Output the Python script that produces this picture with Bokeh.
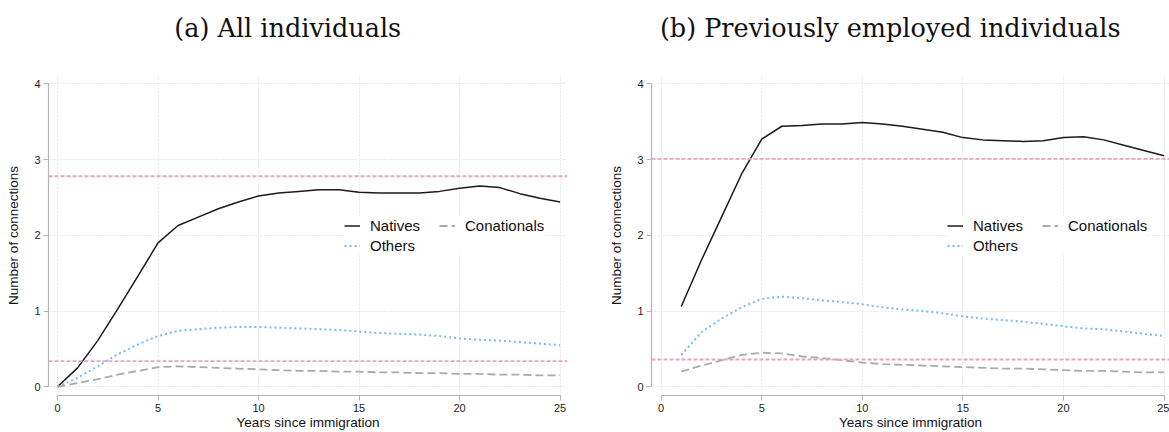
from bokeh.plotting import figure
from bokeh.layouts import row
from bokeh.models import (Range1d, FixedTicker, Span, Legend, LegendItem,
                          LinearAxis)
from bokeh.embed import file_html
from bokeh.resources import INLINE

# ---- data -------------------------------------------------------------
years_a = list(range(0, 26))
natives_a = [0.00, 0.25, 0.61, 1.03, 1.46, 1.90, 2.13, 2.24, 2.35, 2.44, 2.52,
             2.56, 2.58, 2.60, 2.60, 2.57, 2.56, 2.56, 2.56, 2.58, 2.62, 2.65,
             2.63, 2.55, 2.49, 2.44]
others_a = [0.00, 0.12, 0.27, 0.43, 0.56, 0.67, 0.74, 0.76, 0.78, 0.79, 0.79,
            0.78, 0.77, 0.76, 0.75, 0.73, 0.71, 0.70, 0.69, 0.67, 0.64, 0.62,
            0.61, 0.59, 0.57, 0.55]
conat_a = [0.00, 0.05, 0.10, 0.16, 0.21, 0.26, 0.27, 0.26, 0.25, 0.24, 0.23,
           0.22, 0.21, 0.21, 0.20, 0.20, 0.19, 0.19, 0.18, 0.18, 0.17, 0.17,
           0.16, 0.16, 0.15, 0.15]
ref_a = [2.78, 0.34]

years_b = list(range(1, 26))
natives_b = [1.06, 1.67, 2.24, 2.81, 3.27, 3.44, 3.45, 3.47, 3.47, 3.49, 3.47,
             3.44, 3.40, 3.36, 3.29, 3.26, 3.25, 3.24, 3.25, 3.29, 3.30, 3.26,
             3.19, 3.12, 3.05]
others_b = [0.42, 0.72, 0.90, 1.05, 1.16, 1.19, 1.17, 1.14, 1.12, 1.09, 1.05,
            1.02, 1.00, 0.97, 0.93, 0.90, 0.88, 0.86, 0.83, 0.80, 0.77, 0.76,
            0.73, 0.70, 0.67]
conat_b = [0.20, 0.28, 0.35, 0.42, 0.45, 0.44, 0.40, 0.38, 0.35, 0.32, 0.30,
           0.29, 0.28, 0.27, 0.26, 0.25, 0.24, 0.24, 0.23, 0.22, 0.21, 0.21,
           0.20, 0.19, 0.19]
ref_b = [3.01, 0.36]

x_ticks = [0, 5, 10, 15, 20, 25]
y_ticks = [0, 1, 2, 3, 4]

SANS = "Liberation Sans"
SERIF = "DejaVu Serif"
AXIS_GREY = "#b4b4b4"
GRID_GREY = "#d6d6d6"
NBSP = "\u00a0"


def panel(title, years, natives, others, conat, refs, width, b_left, b_right,
          x_start, x_end, title_pad):
    p = figure(width=width, height=432, output_backend="svg",
               toolbar_location=None,
               x_range=Range1d(x_start, x_end),
               y_range=Range1d(-0.115, 4.11),
               min_border_left=b_left, min_border_right=b_right,
               min_border_top=75, min_border_bottom=37)
    p.outline_line_color = None
    p.background_fill_color = "white"
    p.border_fill_color = "white"

    x_axis = p.below[0]
    y_axis = p.left[0]
    for ax, ticks, bounds in ((x_axis, x_ticks, (0, 25)),
                              (y_axis, y_ticks, (0, 4))):
        ax.ticker = FixedTicker(ticks=ticks)
        ax.bounds = bounds
        ax.axis_line_color = AXIS_GREY
        ax.axis_line_width = 1.2
        ax.major_tick_line_color = AXIS_GREY
        ax.major_tick_in = 0
        ax.major_tick_out = 5
        ax.minor_tick_line_color = None
        ax.major_label_text_font = SANS
        ax.major_label_text_font_size = "11px"
        ax.major_label_text_color = "#222222"
        ax.major_label_standoff = 3
        ax.axis_label_text_font = SANS
        ax.axis_label_text_font_size = "13.5px"
        ax.axis_label_text_font_style = "normal"
        ax.axis_label_text_color = "#111111"
    x_axis.axis_label = "Years since immigration"
    x_axis.axis_label_standoff = 0
    y_axis.axis_label = "Number of connections"
    y_axis.axis_label_standoff = 10
    y_axis.major_label_orientation = "horizontal"

    # heading: a bare axis above the frame whose label carries the title;
    # trailing no-break spaces nudge the centred text a little to the left
    head = LinearAxis(ticker=FixedTicker(ticks=[]),
                      axis_label=title + NBSP * title_pad,
                      axis_line_color=None,
                      major_tick_line_color=None, minor_tick_line_color=None,
                      major_label_text_font_size="0px",
                      major_tick_out=0, major_tick_in=0,
                      axis_label_standoff=33,
                      axis_label_text_font=SERIF,
                      axis_label_text_font_size="25.5px",
                      axis_label_text_font_style="normal",
                      axis_label_text_color="#111111")
    p.add_layout(head, "above")

    p.xgrid.ticker = FixedTicker(ticks=x_ticks)
    p.ygrid.ticker = FixedTicker(ticks=y_ticks)
    for g in (p.xgrid[0], p.ygrid[0]):
        g.grid_line_color = GRID_GREY
        g.grid_line_dash = "1 2"
        g.grid_line_width = 1

    for lvl in refs:
        p.add_layout(Span(location=lvl, dimension="width",
                          line_color="#e6a3c9", line_dash="4 2",
                          line_width=1.8))

    r_nat = p.line(years, natives, line_color="#1a1a1a", line_width=1.5)
    r_oth = p.line(years, others, line_color="#73bdf0", line_width=2,
                   line_dash="2 3")
    r_con = p.line(years, conat, line_color="#aaaaaa", line_width=1.8,
                   line_dash="8 4")

    leg = Legend(items=[LegendItem(label="Natives", renderers=[r_nat]),
                        LegendItem(label="Others", renderers=[r_oth]),
                        LegendItem(label="Conationals", renderers=[r_con])],
                 orientation="vertical", nrows=2,
                 location=(296, 141),
                 glyph_width=16, glyph_height=17, label_height=17,
                 label_width=66, label_standoff=10, spacing=3,
                 padding=6, margin=0,
                 label_text_font=SANS, label_text_font_size="15px",
                 label_text_color="#111111",
                 background_fill_color="white", background_fill_alpha=1.0,
                 border_line_color=None)
    p.add_layout(leg, "center")
    return p


left = panel("(a) All individuals", years_a, natives_a, others_a, conat_a,
             ref_a, 590, 48, 23, -0.448, 25.37, 5)
right = panel("(b) Previously employed individuals", years_b, natives_b,
              others_b, conat_b, ref_b, 579, 61, 0, -0.48, 25.27, 5)

layout = row(left, right, spacing=0)
open("out.html", "w").write(file_html(layout, INLINE))
